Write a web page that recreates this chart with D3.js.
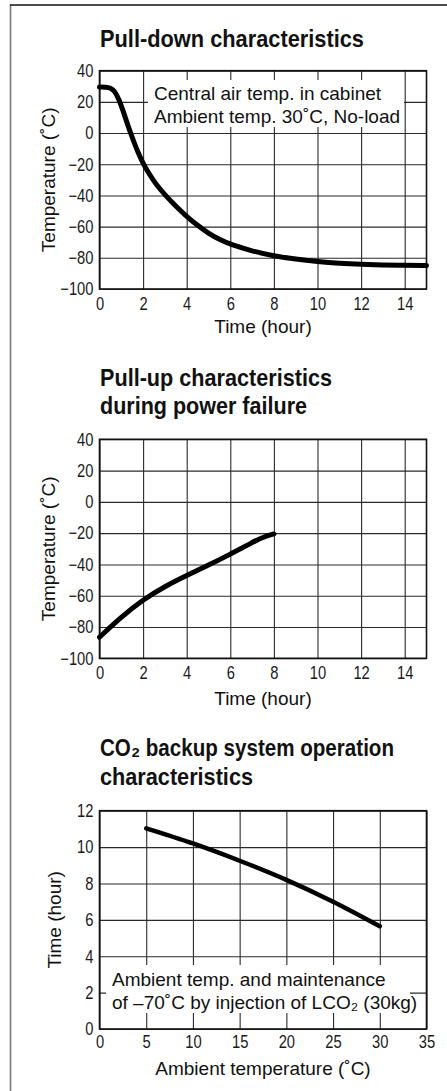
<!DOCTYPE html>
<html>
<head>
<meta charset="utf-8">
<script src="https://cdn.jsdelivr.net/npm/d3@7"></script>
<style>
    body { margin: 0; background: #fff; }
    svg { display: block; }
    .tick text { font-family: "Liberation Sans", Arial, sans-serif; font-size: 18px; fill: #1a1a1a; }
    .title { font-family: "Liberation Sans", Arial, sans-serif; font-weight: bold; font-size: 24px; fill: #111; }
    .label { font-family: "Liberation Sans", Arial, sans-serif; font-size: 19px; fill: #111; }
</style>
</head>
<body>
<svg id="chart" width="447" height="1091"></svg>
<script>
// pull-down: central air temp in cabinet
const pullDownHours = [0, 0.3, 0.5, 0.7, 0.9, 1.1, 1.3, 1.5, 1.75, 2, 2.25, 2.5, 2.75, 3, 3.5, 4, 4.5, 5, 5.5, 6, 7, 8, 9, 10, 11, 12, 13, 14, 15];
const pullDownTemps = [29.5, 29.5, 29, 27, 21.5, 13.5, 5, -2.75, -12, -19.5, -25.6, -30.9, -35.5, -39.6, -46.9, -53.5, -59.3, -64.3, -68.3, -71.4, -75.7, -78.8, -80.9, -82.4, -83.5, -84.2, -84.6, -84.85, -85];

// pull-up during power failure
const pullUpHours = [0, 1, 2, 3, 4, 5, 6, 7, 7.5, 8];
const pullUpTemps = [-86.5, -73.5, -62.5, -54, -47, -40.5, -33.5, -26, -22.5, -20.5];

// CO2 backup
const co2Ambient = [5, 10, 15, 20, 25, 30];
const co2Hours = [11.03, 10.2, 9.25, 8.2, 7.0, 5.65];

const timeTicks = [0, 2, 4, 6, 8, 10, 12, 14];
const tempTicks = [-100, -80, -60, -40, -20, 0, 20, 40];
const ambientTicks = [0, 5, 10, 15, 20, 25, 30, 35];
const hourTicks = [0, 2, 4, 6, 8, 10, 12];

let svg = d3.select("#chart");
const narrow = 0.82;

// page frame
svg.append("line").attr("x1", 10.5).attr("x2", 10.5).attr("y1", 4.5).attr("y2", 1091)
    .attr("stroke", "#777").attr("stroke-width", 1.6);
svg.append("line").attr("x1", 10).attr("x2", 447).attr("y1", 5).attr("y2", 5)
    .attr("stroke", "#111").attr("stroke-width", 1.6);

function addTitle(lines, x, y0, lineH) {
    lines.forEach((l, i) => {
        svg.append("text").attr("class", "title")
            .attr("x", x).attr("y", y0 + i * lineH)
            .attr("textLength", l.w).attr("lengthAdjust", "spacingAndGlyphs")
            .text(l.text);
    });
}

function drawPanel(cfg) {
    let left = 99.5, right = 426.5;
    let x = d3.scaleLinear().domain(cfg.xDomain).range([left, right]);
    let y = d3.scaleLinear().domain(cfg.yDomain).range([cfg.bottom, cfg.top]);
    let g = svg.append("g");

    let xAxis = g.append("g")
        .attr("transform", "translate(0," + cfg.bottom + ")")
        .call(d3.axisBottom(x).tickValues(cfg.xTicks).tickSize(-(cfg.bottom - cfg.top)).tickPadding(cfg.xPad));
    let yAxis = g.append("g")
        .attr("transform", "translate(" + left + ",0)")
        .call(d3.axisLeft(y).tickValues(cfg.yTicks).tickSize(-(right - left)).tickPadding(6));
    [xAxis, yAxis].forEach(a => {
        a.select(".domain").remove();
        a.selectAll(".tick line").attr("stroke", "#2a2a2a").attr("stroke-width", 1.1);
    });
    // condensed look for the tick numbers
    xAxis.selectAll(".tick text").attr("transform", "scale(" + narrow + ",1)");
    yAxis.selectAll(".tick text")
        .attr("x", -6 / narrow)
        .attr("transform", "scale(" + narrow + ",1)");

    if (cfg.note) {
        g.append("rect")
            .attr("x", cfg.note.box[0]).attr("y", cfg.note.box[1])
            .attr("width", cfg.note.box[2]).attr("height", cfg.note.box[3])
            .attr("fill", "#fff");
    }

    g.append("rect")
        .attr("x", left).attr("y", cfg.top)
        .attr("width", right - left).attr("height", cfg.bottom - cfg.top)
        .attr("fill", "none").attr("stroke", "#111").attr("stroke-width", 1.6);

    let line = d3.line()
        .x(d => x(d[0]))
        .y(d => y(d[1]))
        .curve(cfg.curve);
    g.append("path")
        .datum(d3.zip(cfg.xs, cfg.ys))
        .attr("d", line)
        .attr("fill", "none")
        .attr("stroke", "#000")
        .attr("stroke-width", cfg.lineW)
        .attr("stroke-linecap", "round")
        .attr("stroke-linejoin", "round");

    if (cfg.note) {
        cfg.note.lines.forEach((txt, i) => {
            g.append("text").attr("class", "label")
                .attr("x", cfg.note.x).attr("y", cfg.note.y + i * cfg.note.lineH)
                .text(txt);
        });
    }

    g.append("text").attr("class", "label")
        .attr("x", (left + right) / 2).attr("y", cfg.xTitleY)
        .attr("text-anchor", "middle")
        .text(cfg.xTitle);
    g.append("text").attr("class", "label")
        .attr("transform", "translate(" + cfg.yTitleX + "," + (cfg.top + cfg.bottom) / 2 + ") rotate(-90)")
        .attr("text-anchor", "middle")
        .text(cfg.yTitle);
}

addTitle([{w: 264, text: "Pull-down characteristics"}], 100, 46.5, 0);
drawPanel({
    xDomain: [0, 15], yDomain: [-100, 40], top: 70.7, bottom: 289,
    xTicks: timeTicks, yTicks: tempTicks, xPad: 8,
    xs: pullDownHours, ys: pullDownTemps, lineW: 5, curve: d3.curveBasis,
    xTitle: "Time (hour)", xTitleY: 333,
    yTitle: "Temperature (˚C)", yTitleX: 54.5,
    note: {
        box: [148, 80, 256, 47], x: 154, y: 100, lineH: 23,
        lines: ["Central air temp. in cabinet", "Ambient temp. 30˚C, No-load"]
    }
});

addTitle([
    {w: 232, text: "Pull-up characteristics"},
    {w: 207, text: "during power failure"}
], 100, 385.5, 28.5);
drawPanel({
    xDomain: [0, 15], yDomain: [-100, 40], top: 439.3, bottom: 658.3,
    xTicks: timeTicks, yTicks: tempTicks, xPad: 8,
    xs: pullUpHours, ys: pullUpTemps, lineW: 5, curve: d3.curveBasis,
    xTitle: "Time (hour)", xTitleY: 705,
    yTitle: "Temperature (˚C)", yTitleX: 54.5
});

addTitle([
    {w: 294, text: "CO₂ backup system operation"},
    {w: 153, text: "characteristics"}
], 100, 756, 28.5);
drawPanel({
    xDomain: [0, 35], yDomain: [0, 12], top: 810.7, bottom: 1029,
    xTicks: ambientTicks, yTicks: hourTicks, xPad: 6,
    xs: co2Ambient, ys: co2Hours, lineW: 4.5, curve: d3.curveMonotoneX,
    xTitle: "Ambient temperature (˚C)", xTitleY: 1075,
    yTitle: "Time (hour)", yTitleX: 61,
    note: {
        box: [106, 965, 304, 48], x: 112, y: 986, lineH: 23.3,
        lines: ["Ambient temp. and maintenance", "of –70˚C by injection of LCO₂ (30kg)"]
    }
});
</script>
</body>
</html>
